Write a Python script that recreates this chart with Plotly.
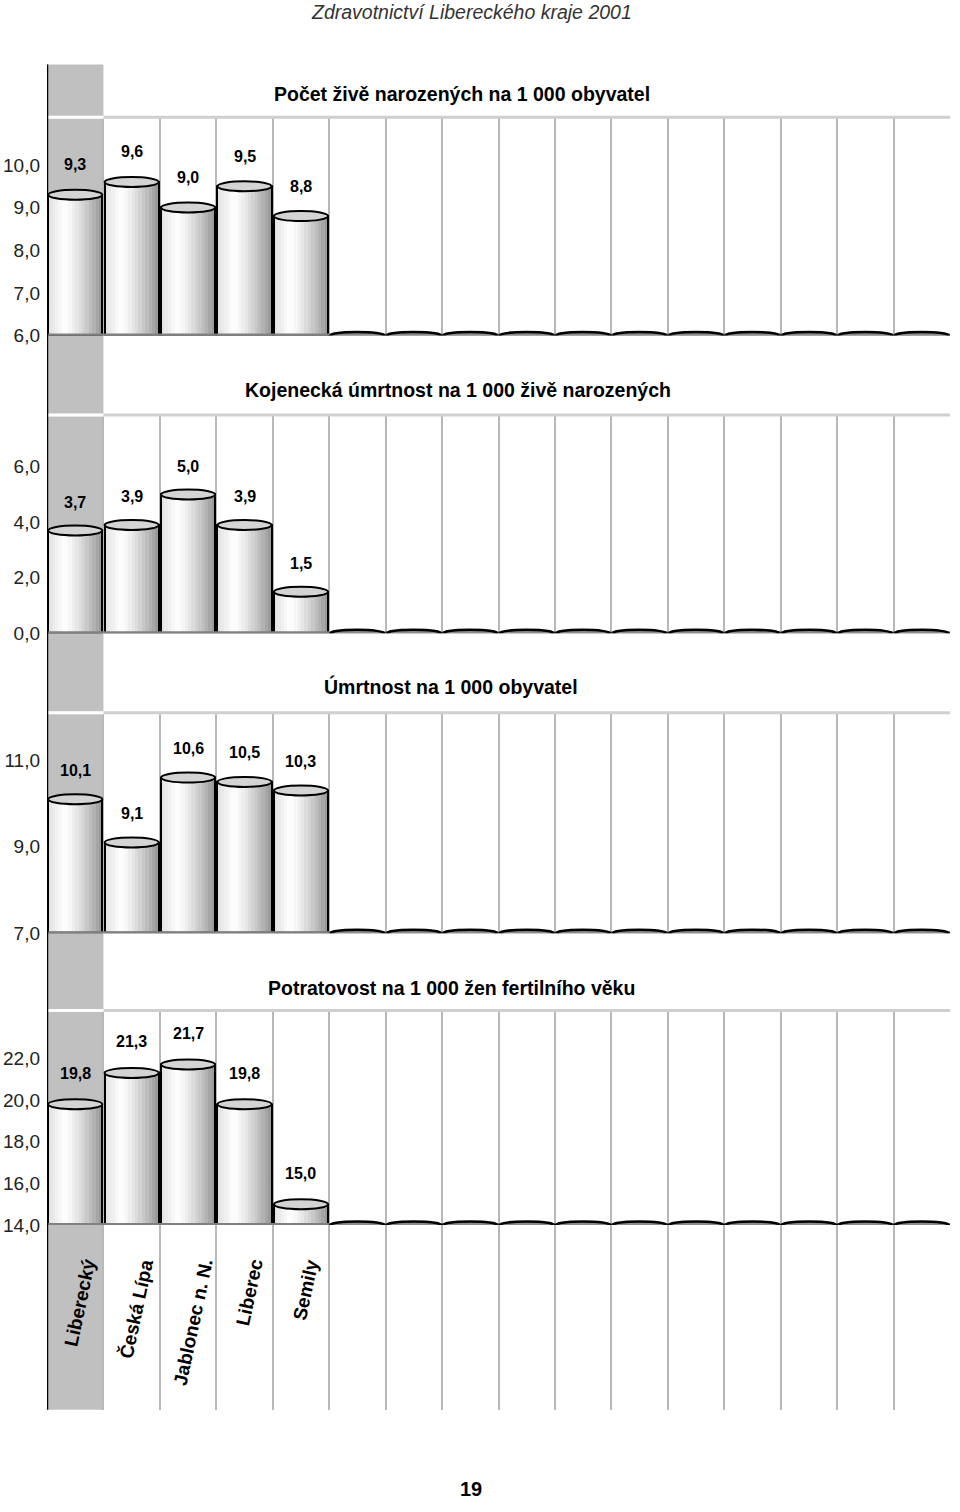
import plotly.graph_objects as go

# ---------------- data ----------------
districts = ["Liberecký", "Česká Lípa", "Jablonec n. N.", "Liberec", "Semily"]
n_columns = 16  # 5 districts + 11 empty columns drawn flat

births = [9.3, 9.6, 9.0, 9.5, 8.8]
infant_mortality = [3.7, 3.9, 5.0, 3.9, 1.5]
mortality = [10.1, 9.1, 10.6, 10.5, 10.3]
abortions = [19.8, 21.3, 21.7, 19.8, 15.0]

titles = [
    "Počet živě narozených na 1 000 obyvatel",
    "Kojenecká úmrtnost na 1 000 živě narozených",
    "Úmrtnost na 1 000 obyvatel",
    "Potratovost na 1 000 žen fertilního věku",
]
ticks_p1 = [6, 7, 8, 9, 10]
ticks_p2 = [0, 2, 4, 6]
ticks_p3 = [7, 9, 11]
ticks_p4 = [14, 16, 18, 20, 22]

# ---------------- layout helpers ----------------
W, H = 960, 1512
def py(px):
    return 1 - px / H

X_DOM = [47 / W, 950 / W]
FONT = "Liberation Sans, Arial"

panels = [
    dict(vals=births, rng=[6, 11.12], ticks=ticks_p1, top=118, bot=338, title_y=95, title_x=462, shift=30),
    dict(vals=infant_mortality, rng=[0, 7.86], ticks=ticks_p2, top=418, bot=638, title_y=393, title_x=458, shift=28),
    dict(vals=mortality, rng=[7, 12.1], ticks=ticks_p3, top=718, bot=940, title_y=692, title_x=451, shift=29),
    dict(vals=abortions, rng=[14, 24.29], ticks=ticks_p4, top=1018, bot=1234, title_y=995, title_x=451, shift=31),
]

BAR_W = 0.96
N_STRIPES = 16

def shade(t):
    # cylinder shading: light on the left, brightest near 30 %, darker on the right
    if t < 0.3:
        b = 0.88 + (1.0 - 0.88) * (t / 0.3)
    else:
        b = 1.0 - (1.0 - 0.58) * ((t - 0.3) / 0.7) ** 1.3
    v = int(round(255 * b))
    return f"rgb({v},{v},{v})"

fig = go.Figure()
shapes = []
annotations = []

for k, p in enumerate(panels):
    n = k + 1
    xa = "x" if n == 1 else f"x{n}"
    ya = "y" if n == 1 else f"y{n}"
    lo = p["rng"][0]
    vals = p["vals"]
    xs = list(range(len(vals)))

    # gradient stripes forming the cylinders
    sw = BAR_W / N_STRIPES
    for s in range(N_STRIPES):
        fig.add_trace(go.Bar(
            x=xs, y=[v - lo for v in vals], base=lo,
            width=sw * 1.08, offset=-BAR_W / 2 + s * sw,
            marker=dict(color=shade((s + 0.5) / N_STRIPES), line=dict(width=0)),
            xaxis=xa, yaxis=ya, showlegend=False, hoverinfo="skip",
        ))
    # outline
    fig.add_trace(go.Bar(
        x=xs, y=[v - lo for v in vals], base=lo,
        width=BAR_W, offset=-BAR_W / 2,
        marker=dict(color="rgba(0,0,0,0)", line=dict(color="black", width=2)),
        xaxis=xa, yaxis=ya, showlegend=False,
        hovertemplate="%{x}: %{y}<extra></extra>",
    ))

    # floor band
    shapes.append(dict(type="line", xref=f"{xa} domain", yref=ya, x0=0, x1=1, y0=lo, y1=lo,
                       line=dict(color="#808080", width=4), layer="above"))
    # top border of plot area
    shapes.append(dict(type="line", xref=f"{xa} domain", yref=f"{ya} domain", x0=0, x1=1, y0=1, y1=1,
                       line=dict(color="#cfcfcf", width=3), layer="above"))
    shapes.append(dict(type="line", xref=xa, yref=f"{ya} domain", x0=-0.5, x1=0.5, y0=1, y1=1,
                       line=dict(color="white", width=3), layer="above"))

    # cylinder tops
    for i, v in enumerate(vals):
        shapes.append(dict(type="circle", xref=xa, yref=ya, xsizemode="scaled", ysizemode="pixel",
                           yanchor=v, y0=-5, y1=5, x0=i - BAR_W / 2, x1=i + BAR_W / 2,
                           fillcolor="#d4d4d4", line=dict(color="black", width=2), layer="above"))
        annotations.append(dict(xref=xa, yref=ya, x=i, y=v, yshift=p["shift"],
                                text=f"<b>{v:.1f}</b>".replace(".", ","), showarrow=False,
                                xanchor="center", yanchor="middle",
                                font=dict(family=FONT, size=16, color="black")))
    # flat discs for the empty columns
    for i in range(len(vals), n_columns):
        shapes.append(dict(type="circle", xref=xa, yref=ya, xsizemode="scaled", ysizemode="pixel",
                           yanchor=lo, y0=-3.5, y1=3.5, x0=i - BAR_W / 2, x1=i + BAR_W / 2,
                           fillcolor="#8c8c8c", line=dict(color="black", width=2.5), layer="above"))

    xaxis = dict(domain=X_DOM, anchor=ya, range=[-0.5, n_columns - 0.5], showgrid=False,
                 zeroline=False, showline=False, ticks="", fixedrange=True,
                 showticklabels=False,
                 minor=dict(tick0=0.5, dtick=1, showgrid=True, gridcolor="#b8b8b8", gridwidth=1.5, ticks=""))
    if n > 1:
        xaxis["matches"] = "x"
    yaxis = dict(domain=[py(p["bot"]), py(p["top"])], anchor=xa, range=p["rng"],
                 tickmode="array", tickvals=p["ticks"], tickformat=".1f",
                 showgrid=False, zeroline=False, showline=False, ticks="",
                 ticklabelstandoff=6, fixedrange=True,
                 tickfont=dict(family=FONT, size=19, color="#222"))
    fig.update_layout(**{("xaxis" if n == 1 else f"xaxis{n}"): xaxis,
                         ("yaxis" if n == 1 else f"yaxis{n}"): yaxis})

    annotations.append(dict(xref="paper", yref="paper", x=p["title_x"] / W, y=py(p["title_y"]),
                            text=f"<b>{titles[k]}</b>", showarrow=False, xanchor="center", yanchor="middle",
                            font=dict(family=FONT, size=19.5, color="black")))

# category labels under the last panel
for i, d in enumerate(districts):
    annotations.append(dict(xref="x4", yref="paper", x=i, y=py(1264), xshift=5,
                            text=f"<b>{d}</b>", showarrow=False, textangle=-78,
                            xanchor="center", yanchor="top",
                            font=dict(family=FONT, size=19, color="black")))

# label area below the last panel (carries grid lines down)
fig.update_layout(
    xaxis5=dict(domain=X_DOM, anchor="y5", matches="x", showgrid=False, zeroline=False,
                showticklabels=False, ticks="", fixedrange=True,
                minor=dict(tick0=0.5, dtick=1, showgrid=True, gridcolor="#b8b8b8", gridwidth=1.5, ticks="")),
    yaxis5=dict(domain=[py(1420), py(1234)], anchor="x5", range=[0, 1], showgrid=False,
                zeroline=False, showticklabels=False, ticks="", fixedrange=True),
)
fig.add_trace(go.Scatter(x=[None], y=[None], xaxis="x5", yaxis="y5", showlegend=False))

# highlighted first column (region) and left axis line
shapes.insert(0, dict(type="rect", xref="x", yref="paper", x0=-0.5, x1=0.5, y0=py(1420), y1=py(65),
                      fillcolor="#c0c0c0", line=dict(width=0), layer="below"))
shapes.append(dict(type="line", xref="x", yref="paper", x0=-0.5, x1=-0.5, y0=py(1420), y1=py(65),
                   line=dict(color="black", width=2.5), layer="above"))

annotations.append(dict(xref="paper", yref="paper", x=471 / W, y=py(12),
                        text="<i>Zdravotnictví Libereckého kraje 2001</i>", showarrow=False,
                        xanchor="center", yanchor="middle",
                        font=dict(family=FONT, size=19.5, color="#333")))
annotations.append(dict(xref="paper", yref="paper", x=471 / W, y=py(1500),
                        text="<b>19</b>", showarrow=False, xanchor="center", yanchor="middle",
                        font=dict(family=FONT, size=20, color="black")))

fig.update_layout(
    width=W, height=H, margin=dict(l=0, r=0, t=0, b=0),
    paper_bgcolor="white", plot_bgcolor="rgba(0,0,0,0)",
    barmode="overlay", bargap=0, separators=", ",
    shapes=shapes, annotations=annotations, showlegend=False,
    font=dict(family=FONT),
)

fig.write_html("out.html")
